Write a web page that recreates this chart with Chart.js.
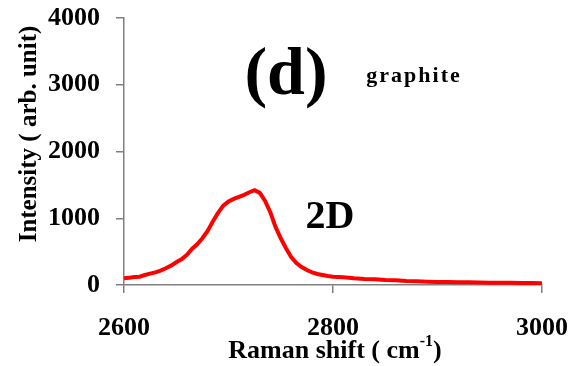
<!DOCTYPE html>
<html>
<head>
<meta charset="utf-8">
<script src="https://cdn.jsdelivr.net/npm/chart.js@4/dist/chart.umd.min.js"></script>
<style>
  body { margin: 0; background: #fff; }
</style>
</head>
<body>
<canvas id="raman" width="571" height="366"></canvas>
<script>
// values (Raman shift in cm-1, intensity in arb. unit)
const ramanShift = [2600, 2605, 2610, 2615, 2620, 2625, 2630, 2635, 2640, 2645,
  2650, 2655, 2660, 2665, 2670, 2675, 2680, 2685, 2690, 2695,
  2700, 2705, 2710, 2715, 2720, 2725, 2730, 2735, 2740, 2745,
  2750, 2755, 2760, 2765, 2770, 2775, 2780, 2785, 2790, 2795,
  2800, 2810, 2820, 2830, 2840, 2850, 2860, 2870, 2880, 2890,
  2900, 2910, 2920, 2930, 2940, 2950, 2960, 2970, 2980, 2990, 3000];
const intensity = [100, 110, 120, 125, 150, 170, 190, 215, 250, 290,
  340, 385, 450, 540, 610, 700, 810, 950, 1080, 1190,
  1250, 1290, 1320, 1350, 1390, 1420, 1380, 1260, 1090, 870,
  700, 550, 420, 330, 270, 225, 190, 165, 150, 135,
  125, 115, 100, 90, 85, 75, 70, 60, 55, 50,
  45, 45, 40, 40, 38, 35, 35, 32, 30, 30, 28];
const xTicks = [2600, 2800, 3000];
const yTicks = [0, 1000, 2000, 3000, 4000];

const serif = '"Liberation Serif", "Times New Roman", serif';
const axisGrey = '#808080';

const points = [];
for (let i = 0; i < ramanShift.length; i++) {
  points.push({ x: ramanShift[i], y: intensity[i] });
}

// texts drawn on top: panel letter, sample name, band name, axis titles
const labelsPlugin = {
  id: 'labels',
  afterDraw(chart) {
    const ctx = chart.ctx;
    ctx.save();
    ctx.fillStyle = '#000';
    ctx.textBaseline = 'alphabetic';
    ctx.textAlign = 'center';

    ctx.font = 'bold 68px ' + serif;
    ctx.fillText('(d)', 286, 94);

    ctx.font = 'bold 22px ' + serif;
    ctx.letterSpacing = '2px';
    ctx.fillText('graphite', 414, 82);
    ctx.letterSpacing = '0px';

    ctx.font = 'bold 40px ' + serif;
    ctx.fillText('2D', 330, 228);

    // x title with superscript
    ctx.font = 'bold 26px ' + serif;
    const a = 'Raman shift ( cm';
    const b = ')';
    ctx.textAlign = 'left';
    const wa = ctx.measureText(a).width;
    ctx.font = 'bold 16px ' + serif;
    const ws = ctx.measureText('-1').width;
    ctx.font = 'bold 26px ' + serif;
    const wb = ctx.measureText(b).width;
    let x0 = 335 - (wa + ws + wb) / 2;
    ctx.fillText(a, x0, 358);
    ctx.font = 'bold 16px ' + serif;
    ctx.fillText('-1', x0 + wa, 346);
    ctx.font = 'bold 26px ' + serif;
    ctx.fillText(b, x0 + wa + ws, 358);

    // y title
    ctx.translate(36, 134);
    ctx.rotate(-Math.PI / 2);
    ctx.textAlign = 'center';
    ctx.font = 'bold 25px ' + serif;
    ctx.fillText('Intensity ( arb. unit)', 0, 0);
    ctx.restore();
  }
};

new Chart(document.getElementById('raman'), {
  type: 'line',
  data: {
    datasets: [{
      data: points,
      borderColor: '#ff0000',
      borderWidth: 4,
      pointRadius: 0,
      tension: 0,
      fill: false
    }]
  },
  options: {
    responsive: false,
    animation: false,
    layout: { padding: { left: 0, right: 29, top: 18, bottom: 0 } },
    plugins: {
      legend: { display: false },
      tooltip: { enabled: false }
    },
    scales: {
      x: {
        type: 'linear',
        min: 2600,
        max: 3000,
        afterBuildTicks: (s) => { s.ticks = xTicks.map(v => ({ value: v })); },
        afterFit: (s) => { s.height = 81; s.paddingLeft = 0; s.paddingRight = 0; },
        ticks: {
          color: '#000',
          font: { family: serif, size: 26, weight: 'bold' },
          padding: 20,
          maxRotation: 0,
          callback: (v) => String(v)
        },
        grid: { drawOnChartArea: false, color: axisGrey, tickLength: 8, lineWidth: 1.5 },
        border: { color: axisGrey, width: 1.5 }
      },
      y: {
        min: 0,
        max: 4000,
        afterBuildTicks: (s) => { s.ticks = yTicks.map(v => ({ value: v })); },
        afterFit: (s) => { s.width = 124; s.paddingTop = 0; s.paddingBottom = 0; },
        ticks: {
          color: '#000',
          font: { family: serif, size: 26, weight: 'bold' },
          padding: 16,
          callback: (v) => String(v)
        },
        grid: { drawOnChartArea: false, color: axisGrey, tickLength: 8, lineWidth: 1.5 },
        border: { color: axisGrey, width: 1.5 }
      }
    }
  },
  plugins: [labelsPlugin]
});
</script>
</body>
</html>
